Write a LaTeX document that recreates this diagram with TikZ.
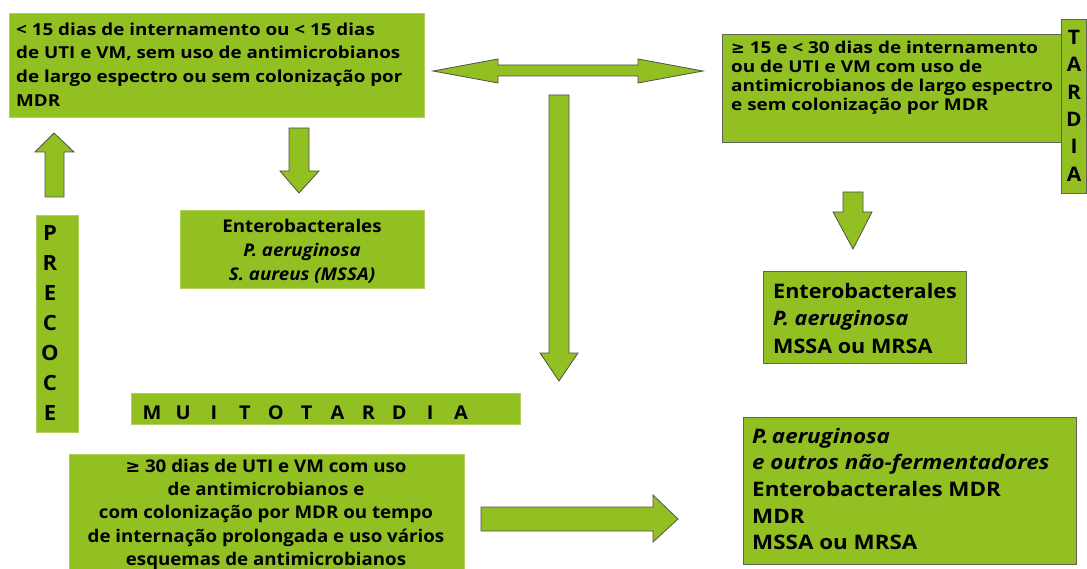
\documentclass[tikz,border=0pt]{standalone}
\usepackage{fontspec}
\setmainfont{Open Sans}
\newfontfamily\dvs{DejaVu Sans}
\definecolor{boxgreen}{RGB}{146,192,35}
\definecolor{edgelight}{RGB}{175,208,95}
\definecolor{edgedark}{RGB}{95,100,85}
\definecolor{arrowedge}{RGB}{80,80,75}
\newcommand\geqsym{{\dvs\bfseries ≥}}
\newcommand\lb[1]{\makebox[30.9pt]{#1}}
\newcommand\fs[3]{\fontsize{#1}{#2}\selectfont\addfontfeature{FakeStretch=#3}\bfseries}
\tikzset{
  gboxL/.style={draw=edgelight, fill=boxgreen, line width=0.6pt, inner sep=0pt},
  gboxD/.style={draw=edgedark, fill=boxgreen, line width=0.8pt, inner sep=0pt},
  garrow/.style={draw=arrowedge, fill=boxgreen, line width=0.8pt, line join=miter},
  txt/.style={inner sep=0pt, text=black}
}
\begin{document}
\begin{tikzpicture}[x=1pt,y=-1pt]
\useasboundingbox[fill=white] (0,0) rectangle (1087,569);

% boxes
\node[gboxL, minimum width=415pt, minimum height=104pt] (b1) at (216.5,65) {};
\node[gboxD, minimum width=339pt, minimum height=108pt] (b2) at (891.5,88) {};
\node[gboxD, minimum width=25.5pt, minimum height=174pt] (tardia) at (1073.75,106) {};
\node[gboxL, minimum width=244pt, minimum height=78pt] (b3) at (302,249) {};
\node[gboxD, minimum width=203pt, minimum height=92pt] (b4) at (864.5,317) {};
\node[gboxL, minimum width=42pt, minimum height=217pt] (precoce) at (57,323.5) {};
\node[gboxL, minimum width=389pt, minimum height=31pt] (muito) at (325.5,408.5) {};
\node[gboxL, minimum width=395pt, minimum height=118pt] (b5) at (266.5,513) {};
\node[gboxD, minimum width=333pt, minimum height=147pt] (b6) at (909.5,490.5) {};

% texts
\node[txt, anchor=north west, align=left, font=\fs{16.5}{23.7}{1.14}] (t1) at (16,18.4)
 {\strut< 15 dias de internamento ou < 15 dias\\ de UTI e VM, sem uso de antimicrobianos\\ de largo espectro ou sem colonização por\\ MDR};
\node[txt, anchor=north west, align=left, font=\fs{16.3}{19}{1.16}] (t2) at (731,39.7)
 {\strut\geqsym{} 15 e < 30 dias de internamento\\ ou de UTI e VM com uso de\\ antimicrobianos de largo espectro\\ e sem colonização por MDR};
\node[txt, anchor=north, align=center, font=\fs{17.5}{24.3}{1.07}] (t3) at (302,215)
 {\strut Enterobacterales\\ \textit{P. aeruginosa}\\ \textit{S. aureus (MSSA)}};
\node[txt, anchor=north west, align=left, font=\fs{20}{27.5}{1.08}] (t4) at (773,278.75)
 {\strut Enterobacterales\\ \textit{P. aeruginosa}\\ MSSA ou MRSA};
\node[txt, anchor=north, align=center, font=\fs{17.5}{23.3}{1.07}] (t5) at (266,455.7)
 {\strut\geqsym{} 30 dias de UTI e VM com uso\\ de antimicrobianos e\\ com colonização por MDR ou tempo\\ de internação prolongada e uso vários\\ esquemas de antimicrobianos};
\node[txt, anchor=north west, align=left, font=\fs{20}{26.7}{1.12}] (t6) at (752,424.3)
 {\strut\textit{P.\,aeruginosa}\\ \textit{e outros não-fermentadores}\\ Enterobacterales MDR\\ MDR\\ MSSA ou MRSA};
\node[txt, anchor=north, align=center, font=\fs{21}{30}{1.05}] (tp) at (50,219)
 {\strut P\\ R\\ E\\ C\\ O\\ C\\ E};
\node[txt, anchor=north, align=center, font=\fs{20}{27.4}{1.05}] (tt) at (1074,25)
 {\strut T\\ A\\ R\\ D\\ I\\ A};
\node[txt, anchor=base west, font=\fs{19}{22}{1.05}] (tm) at (136.5,419)
 {\lb{M}\lb{U}\lb{I}\lb{T}\lb{O}\lb{T}\lb{A}\lb{R}\lb{D}\lb{I}\lb{A}};

% block arrows
\draw[garrow] (433,71) -- (498,59) -- (498,65) -- (638,65) -- (638,59) -- (703,71)
  -- (638,83) -- (638,76) -- (498,76) -- (498,83) -- cycle;
\draw[garrow] (549,95) -- (569,95) -- (569,353) -- (578,353) -- (559,381) -- (540,353) -- (549,353) -- cycle;
\draw[garrow] (289,128) -- (309,128) -- (309,171) -- (319,171) -- (299,193) -- (280,171) -- (289,171) -- cycle;
\draw[garrow] (843,192) -- (863,192) -- (863,212) -- (872,212) -- (853,249) -- (833,212) -- (843,212) -- cycle;
\draw[garrow] (45,197) -- (45,152) -- (35,152) -- (54,133) -- (74,152) -- (64,152) -- (64,197) -- cycle;
\draw[garrow] (481,507) -- (653,507) -- (653,495) -- (678,519) -- (653,542) -- (653,531) -- (481,531) -- cycle;
\end{tikzpicture}
\end{document}
